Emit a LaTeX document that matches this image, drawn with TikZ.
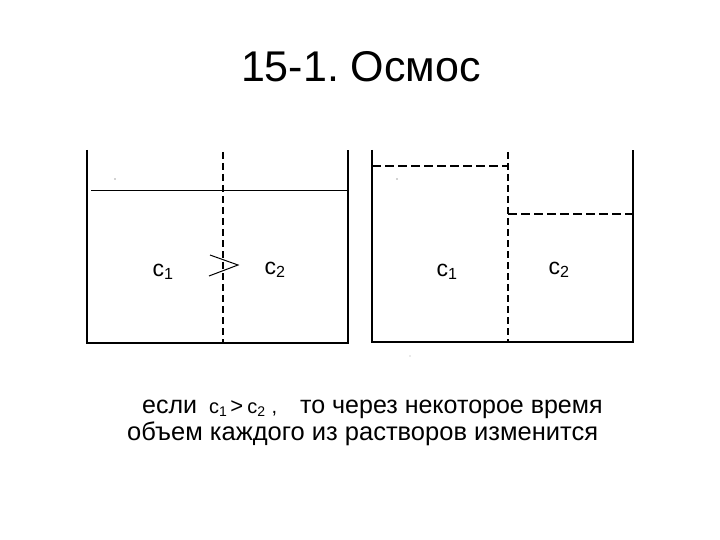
\documentclass[tikz,border=0pt]{standalone}
\usepackage{fontspec}
\setmainfont{Liberation Sans}
\begin{document}
\frenchspacing
\begin{tikzpicture}[x=1pt,y=-1pt,
  wall/.style={line width=2.2pt,line cap=butt},
  level/.style={line width=0.8pt},
  membrane/.style={line width=2pt,dash pattern=on 7pt off 4pt},
  dlevel/.style={line width=1.6pt,dash pattern=on 9pt off 4pt},
  lbl/.style={inner sep=0pt,anchor=base,font=\fontsize{23}{26}\selectfont},
  txt/.style={inner sep=0pt,anchor=base west,font=\fontsize{25}{28}\selectfont},
  small/.style={inner sep=0pt,anchor=base west,font=\fontsize{20}{22}\selectfont},
  speck/.style={fill=gray!70,draw=none}]
\useasboundingbox (0,0) rectangle (720,540);
% title
\node[inner sep=0pt,anchor=base,font=\fontsize{43}{48}\selectfont] (title) at (361,82) {15-1. Осмос};
% left vessel
\coordinate (L1) at (87,150); \coordinate (L2) at (87,343);
\coordinate (L3) at (348,343); \coordinate (L4) at (348,150);
\draw[wall] (L1) -- (L2) -- (L3) -- (L4);
\coordinate (m1) at (223,152); \coordinate (m2) at (223,343);
\draw[membrane] (m1) -- (m2);
\coordinate (s1) at (91,190); \coordinate (s2) at (348,190);
\draw[level] (s1) -- (s2);
\node[lbl] (c1a) at (163,276) {c\textsubscript{1}};
\node[lbl] (c2a) at (275,274) {c\textsubscript{2}};
\coordinate (g1) at (210,255); \coordinate (g2) at (238,265); \coordinate (g3) at (209,276);
\draw[line width=1pt] (g1) -- (g2) -- (g3);
% right vessel
\coordinate (R1) at (372,150); \coordinate (R2) at (372,342);
\coordinate (R3) at (633,342); \coordinate (R4) at (633,150);
\draw[wall] (R1) -- (R2) -- (R3) -- (R4);
\coordinate (n1) at (508,152); \coordinate (n2) at (508,342);
\draw[membrane] (n1) -- (n2);
\coordinate (h1) at (372,166); \coordinate (h2) at (508,166);
\draw[dlevel] (h1) -- (h2);
\coordinate (k1) at (508,214); \coordinate (k2) at (637,214);
\draw[dlevel] (k1) -- (k2);
\node[lbl] (c1b) at (447,276) {c\textsubscript{1}};
\node[lbl] (c2b) at (559,274) {c\textsubscript{2}};
% specks
\fill[speck] (115,179) circle (0.8);
\fill[speck] (397,179) circle (0.8);
\fill[speck] (410,356) circle (0.7);
% bottom text
\node[txt] (t1) at (142,413) {если};
\node[small] (sc) at (209,413) {c\textsubscript{1}\hspace{3pt}{\fontsize{22}{22}\selectfont >}\hspace{4pt}c\textsubscript{2}\hspace{6pt},};
\node[txt] (t3) at (300,413) {то через некоторое время};
\node[txt,font=\fontsize{25.5}{28}\selectfont] (t4) at (127,440) {объем каждого из растворов изменится};
\end{tikzpicture}
\end{document}
